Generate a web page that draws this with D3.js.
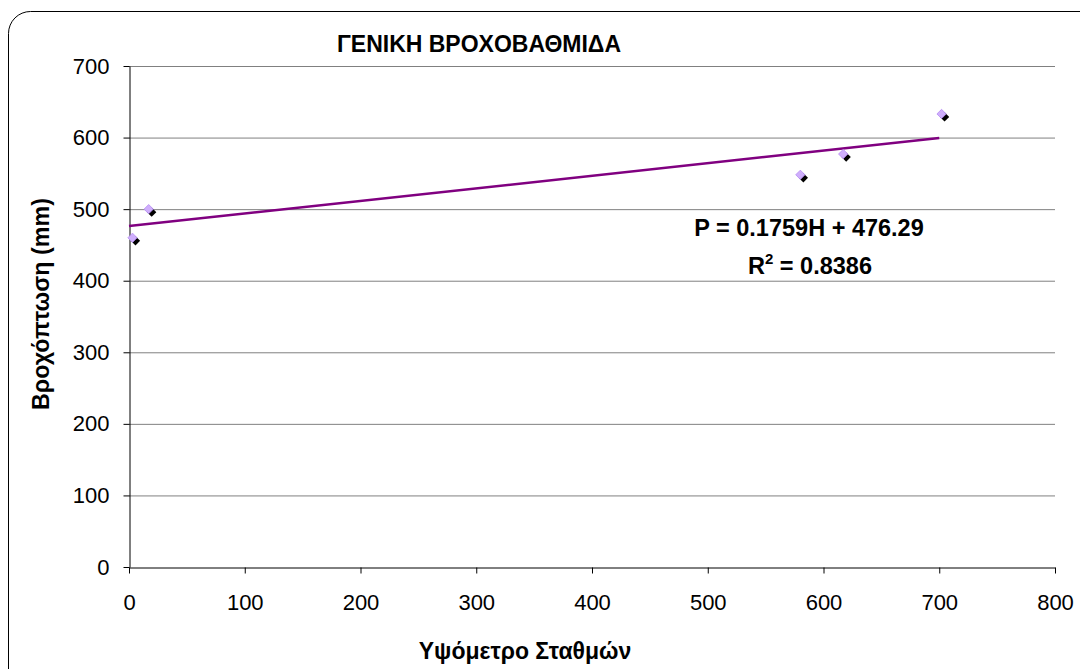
<!DOCTYPE html>
<html>
<head>
<meta charset="utf-8">
<script src="https://cdn.jsdelivr.net/npm/d3@7"></script>
<style>
  body { margin: 0; background: #fff; }
  svg { display: block; font-family: "Liberation Sans", Arial, sans-serif; }
</style>
</head>
<body>
<script>
// station elevation (m) and rainfall (mm)
const elevation = [3, 17, 580, 617, 702];
const rainfall = [460, 500, 548, 577, 633];
const xTicks = [0, 100, 200, 300, 400, 500, 600, 700, 800];
const yTicks = [0, 100, 200, 300, 400, 500, 600, 700];
const slope = 0.1759, intercept = 476.29, r2 = 0.8386;
const trendRange = [0, 700];

const width = 1080, height = 669;
const margin = { top: 66, right: 25, bottom: 102, left: 129 };

const svg = d3.select("body").append("svg")
    .attr("width", width)
    .attr("height", height);

// outer chart frame (rounded, runs off the right/bottom edge)
svg.append("rect")
    .attr("x", 8.5).attr("y", 11.5)
    .attr("width", 1100).attr("height", 700)
    .attr("rx", 22)
    .attr("fill", "none")
    .attr("stroke", "#000")
    .attr("stroke-width", 1);

const x = d3.scaleLinear()
    .domain([0, 800])
    .range([margin.left, width - margin.right]);

const y = d3.scaleLinear()
    .domain([0, 700])
    .range([height - margin.bottom, margin.top]);

// gridlines
svg.append("g")
    .selectAll("line")
    .data(yTicks.filter(d => d > 0))
    .enter()
    .append("line")
    .attr("x1", x(0)).attr("x2", x(800))
    .attr("y1", d => y(d) + 0.5).attr("y2", d => y(d) + 0.5)
    .attr("stroke", "#808080")
    .attr("stroke-width", 1);

const xAxis = svg.append("g")
    .attr("transform", `translate(0,${y(0) + 0.5})`)
    .call(d3.axisBottom(x).tickValues(xTicks).tickSize(6).tickSizeOuter(0).tickPadding(21));

const yAxis = svg.append("g")
    .attr("transform", `translate(${x(0) + 0.5},0)`)
    .call(d3.axisLeft(y).tickValues(yTicks).tickSize(6).tickSizeOuter(0).tickPadding(14));

[xAxis, yAxis].forEach(g => {
    g.select(".domain").attr("stroke", "#000");
    g.selectAll(".tick line").attr("stroke", "#000");
    g.selectAll("text")
        .attr("fill", "#000")
        .style("font-size", "22px")
        .style("font-family", "'Liberation Sans', Arial, sans-serif");
});

// trendline
svg.append("line")
    .attr("x1", x(trendRange[0]))
    .attr("y1", y(slope * trendRange[0] + intercept))
    .attr("x2", x(trendRange[1]))
    .attr("y2", y(slope * trendRange[1] + intercept))
    .attr("stroke", "#800080")
    .attr("stroke-width", 2.5);

// markers: diamond with black shadow
const points = elevation.map((e, i) => ({ e, r: rainfall[i] }));
const diamond = d3.symbol().type(d3.symbolDiamond2).size(55);

svg.append("g").selectAll("path")
    .data(points)
    .enter()
    .append("path")
    .attr("d", diamond)
    .attr("transform", d => `translate(${x(d.e) + 3},${y(d.r) + 3})`)
    .attr("fill", "#000");

svg.append("g").selectAll("path")
    .data(points)
    .enter()
    .append("path")
    .attr("d", diamond)
    .attr("transform", d => `translate(${x(d.e)},${y(d.r)})`)
    .attr("fill", "#cfaefc")
    .attr("stroke", "#b58cf2")
    .attr("stroke-width", 0.8);

// title
svg.append("text")
    .attr("x", 479)
    .attr("y", 52)
    .attr("text-anchor", "middle")
    .style("font-size", "23px")
    .style("font-weight", "bold")
    .text("ΓΕΝΙΚΗ ΒΡΟΧΟΒΑΘΜΙΔΑ");

// equation
svg.append("text")
    .attr("x", 809)
    .attr("y", 236)
    .attr("text-anchor", "middle")
    .style("font-size", "23.5px")
    .style("font-weight", "bold")
    .text(`P = ${slope}H + ${intercept}`);

const r2Text = svg.append("text")
    .attr("x", 810)
    .attr("y", 274)
    .attr("text-anchor", "middle")
    .style("font-size", "23.5px")
    .style("font-weight", "bold");
r2Text.append("tspan").text("R");
r2Text.append("tspan").attr("dy", -10).style("font-size", "15px").text("2");
r2Text.append("tspan").attr("dy", 10).text(` = ${r2}`);

// axis titles
svg.append("text")
    .attr("x", 525)
    .attr("y", 659)
    .attr("text-anchor", "middle")
    .style("font-size", "23px")
    .style("font-weight", "bold")
    .text("Υψόμετρο Σταθμών");

svg.append("text")
    .attr("transform", "translate(49,304) rotate(-90)")
    .attr("text-anchor", "middle")
    .attr("textLength", 212)
    .attr("lengthAdjust", "spacingAndGlyphs")
    .style("font-size", "23px")
    .style("font-weight", "bold")
    .text("Βροχόπτωση (mm)");
</script>
</body>
</html>
